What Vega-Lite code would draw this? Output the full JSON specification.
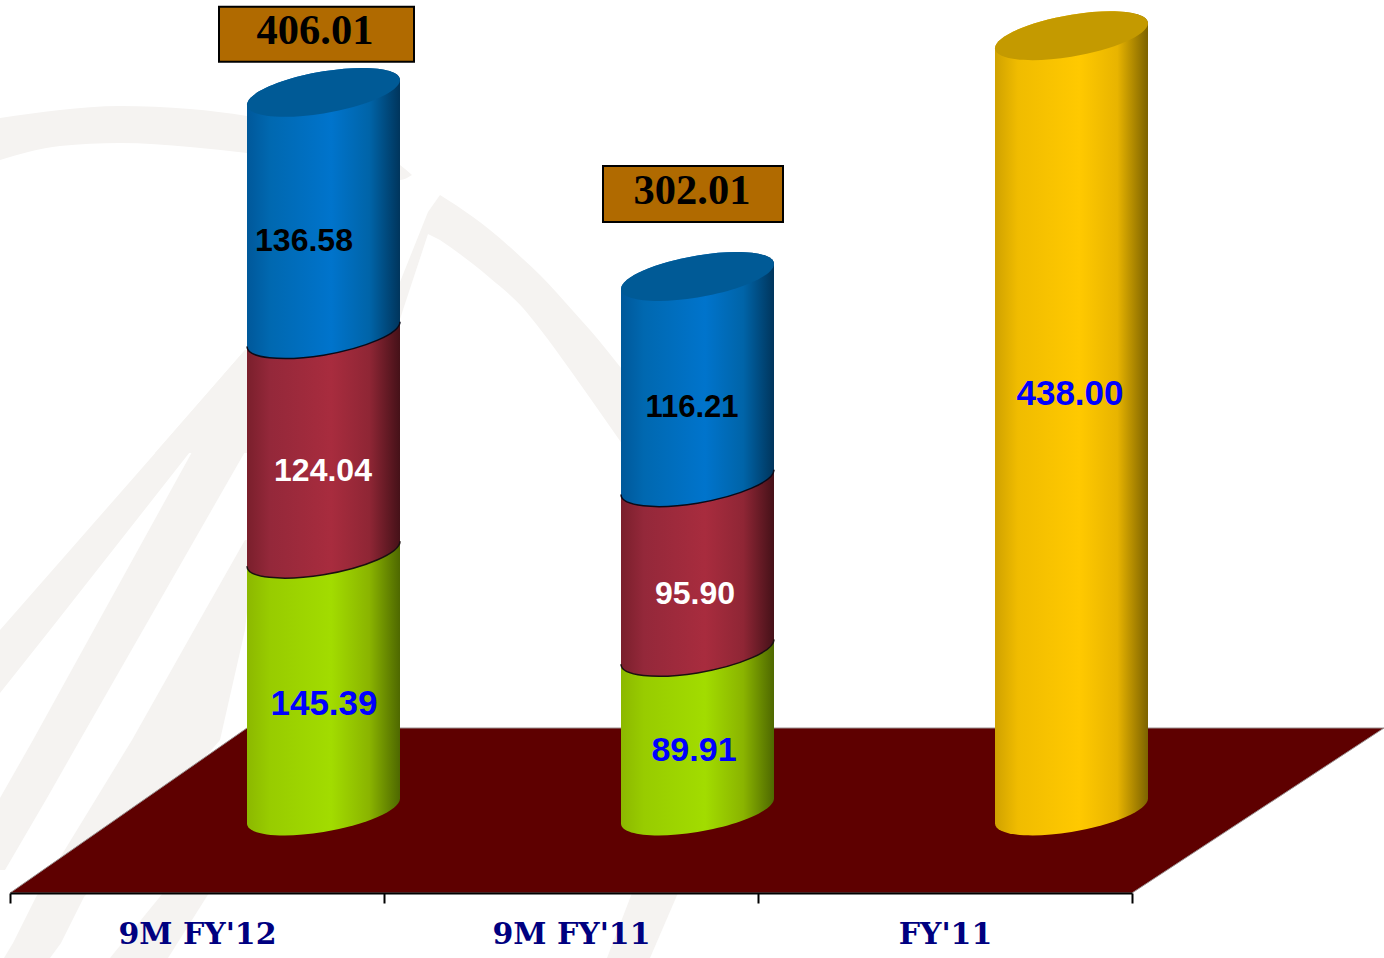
{"$schema":"https://vega.github.io/schema/vega-lite/v6.json","width":1384,"height":893,"autosize":{"type":"none"},"padding":{"left":0,"top":0,"right":0,"bottom":65},"background":"white","config":{"view":{"stroke":null}},
"datasets":{
"bars":[{"period":"9M FY'12","segment":"green","order":1,"value":145.39},{"period":"9M FY'12","segment":"red","order":2,"value":124.04},{"period":"9M FY'12","segment":"blue","order":3,"value":136.58},{"period":"9M FY'11","segment":"green","order":1,"value":89.91},{"period":"9M FY'11","segment":"red","order":2,"value":95.90},{"period":"9M FY'11","segment":"blue","order":3,"value":116.21},{"period":"FY'11","segment":"yellow","order":1,"value":438.00}],
"vshapes":[{"s":"arc1","px":0,"py":118,"py2":160},{"s":"arc1","px":60,"py":110,"py2":146},{"s":"arc1","px":120,"py":106,"py2":143},{"s":"arc1","px":190,"py":109,"py2":147},{"s":"arc1","px":247,"py":116,"py2":153},{"s":"arc1","px":330,"py":135,"py2":164},{"s":"arc1","px":400,"py":165,"py2":180},{"s":"arc1","px":412,"py":175,"py2":175},
{"s":"arc2b","px":440,"py":195,"py2":240},{"s":"arc2b","px":473,"py":217,"py2":264},{"s":"arc2b","px":490,"py":230,"py2":278},{"s":"arc2b","px":523,"py":259,"py2":308},{"s":"arc2b","px":540,"py":275,"py2":329},{"s":"arc2b","px":573,"py":311,"py2":374},{"s":"arc2b","px":590,"py":330,"py2":398},{"s":"arc2b","px":625,"py":373,"py2":448}],
"vshapes2":[{"s":"arc2a","px":400,"py":282,"py2":319},{"s":"arc2a","px":428,"py":212,"py2":234},{"s":"arc2a","px":440,"py":195,"py2":240}],
"hshapes":[{"s":"a","py":350,"px":245,"px2":260},{"s":"a","py":443,"px":164,"px2":197},{"s":"a","py":630,"px":0,"px2":50},{"s":"a","py":693,"px":0,"px2":0},
{"s":"m","py":350,"px":245,"px2":260},{"s":"m","py":453,"px":155,"px2":250},
{"s":"b","py":443,"px":197,"px2":250},{"s":"b","py":740,"px":33,"px2":80},{"s":"b","py":798,"px":0,"px2":47},{"s":"b","py":870,"px":0,"px2":5},
{"s":"c","py":540,"px":245,"px2":255},{"s":"c","py":630,"px":194,"px2":245},{"s":"c","py":740,"px":132,"px2":220},{"s":"c","py":897,"px":36,"px2":84},{"s":"c","py":943,"px":13,"px2":61},{"s":"c","py":958,"px":4,"px2":50},
{"s":"d","py":893,"px":163,"px2":209},{"s":"d","py":958,"px":110,"px2":168},
{"s":"e","py":893,"px":632,"px2":678},{"s":"e","py":958,"px":607,"px2":650}],
"floor":[{"py":728,"px":247,"px2":1384},{"py":893,"px":10,"px2":1132}],
"totals":[{"period":"9M FY'12","total":406.01},{"period":"9M FY'11","total":302.01}]
},
"layer":[
{"layer":[
{"data":{"name":"hshapes"},"mark":{"type":"area","orient":"horizontal","color":"#f5f3f1"},"encoding":{"y":{"field":"py","type":"quantitative","scale":{"domain":[893,0],"nice":false,"zero":false},"axis":null},"x":{"field":"px","type":"quantitative","scale":{"domain":[0,1384],"nice":false,"zero":false},"axis":null},"x2":{"field":"px2"},"detail":{"field":"s"}}},
{"data":{"name":"vshapes"},"mark":{"type":"area","orient":"vertical","color":"#f5f3f1","interpolate":"monotone"},"encoding":{"x":{"field":"px","type":"quantitative"},"y":{"field":"py","type":"quantitative"},"y2":{"field":"py2"},"detail":{"field":"s"}}},
{"data":{"name":"vshapes2"},"mark":{"type":"area","orient":"vertical","color":"#f5f3f1"},"encoding":{"x":{"field":"px","type":"quantitative"},"y":{"field":"py","type":"quantitative"},"y2":{"field":"py2"},"detail":{"field":"s"}}},
{"data":{"name":"floor"},"mark":{"type":"area","orient":"horizontal","color":"#5e0000","stroke":"#9a9090","strokeWidth":1},"encoding":{"y":{"field":"py","type":"quantitative"},"x":{"field":"px","type":"quantitative"},"x2":{"field":"px2"}}}
]},
{"data":{"name":"bars"},"transform":[{"stack":"value","groupby":["period"],"sort":[{"field":"order","order":"ascending"}],"as":["y0","y1"]}],
"encoding":{"x":{"field":"period","type":"nominal","sort":null,"scale":{"domain":["9M FY'12","9M FY'11","FY'11"],"type":"band","range":[10,1132],"paddingInner":0,"paddingOuter":0},"axis":{"orient":"bottom","zindex":1,"title":null,"labelAngle":0,"tickBand":"extent","domainColor":"#000000","domainWidth":2,"tickColor":"#000000","tickWidth":2,"tickSize":10,"labelFont":"DejaVu Serif","labelFontWeight":"bold","labelFontSize":30,"labelColor":"#000080","labelPadding":16,"grid":false}},
"y":{"field":"y1","type":"quantitative","scale":{"domain":[-46.33,458.19],"nice":false,"zero":false},"axis":null}},
"layer":[
{"transform":[{"filter":"datum.segment==='green'"}],"mark":{"type":"bar","width":153,"xOffset":126.5,"yOffset":-13,"y2Offset":-12,"color":{"gradient":"linear","x1":0,"x2":1,"y1":0,"y2":0,"stops":[{"offset":0,"color":"#8cb800"},{"offset":0.15,"color":"#98cc00"},{"offset":0.55,"color":"#a2dc00"},{"offset":0.8,"color":"#8ab400"},{"offset":1,"color":"#4e6800"}]}},"encoding":{"y2":{"field":"y0"}}},
{"transform":[{"filter":"datum.segment==='green'"}],"mark":{"type":"point","filled":true,"opacity":1,"size":23409,"xOffset":126.5,"shape":"M-1,-.175L1,-.175L1,-.163C1,-.011 .552,.185 0,.275C-.552,.365 -1,.315 -1,.163Z","color":{"gradient":"linear","x1":0,"x2":1,"y1":0,"y2":0,"stops":[{"offset":0,"color":"#8cb800"},{"offset":0.15,"color":"#98cc00"},{"offset":0.55,"color":"#a2dc00"},{"offset":0.8,"color":"#8ab400"},{"offset":1,"color":"#4e6800"}]}},"encoding":{"y":{"field":"y0","type":"quantitative"}}},
{"transform":[{"filter":"datum.segment==='red'"}],"mark":{"type":"bar","width":153,"xOffset":126.5,"yOffset":-13,"y2Offset":-12,"color":{"gradient":"linear","x1":0,"x2":1,"y1":0,"y2":0,"stops":[{"offset":0,"color":"#7a1f2c"},{"offset":0.15,"color":"#94283a"},{"offset":0.55,"color":"#a82c3e"},{"offset":0.8,"color":"#8f2635"},{"offset":1,"color":"#451118"}]}},"encoding":{"y2":{"field":"y0"}}},
{"transform":[{"filter":"datum.segment==='red'"}],"mark":{"type":"point","filled":true,"opacity":1,"size":23409,"xOffset":126.5,"shape":"M-1,-.175L1,-.175L1,-.163C1,-.011 .552,.185 0,.275C-.552,.365 -1,.315 -1,.163Z","color":{"gradient":"linear","x1":0,"x2":1,"y1":0,"y2":0,"stops":[{"offset":0,"color":"#7a1f2c"},{"offset":0.15,"color":"#94283a"},{"offset":0.55,"color":"#a82c3e"},{"offset":0.8,"color":"#8f2635"},{"offset":1,"color":"#451118"}]}},"encoding":{"y":{"field":"y0","type":"quantitative"}}},
{"transform":[{"filter":"datum.segment==='red'"}],"mark":{"type":"point","filled":false,"opacity":1,"size":23409,"xOffset":126.5,"strokeWidth":1.5,"color":"#1a1010","shape":"M1,-.163C1,-.011 .552,.185 0,.275C-.552,.365 -1,.315 -1,.163"},"encoding":{"y":{"field":"y0","type":"quantitative"}}},
{"transform":[{"filter":"datum.segment==='blue'"}],"mark":{"type":"bar","width":153,"xOffset":126.5,"yOffset":12.5,"y2Offset":-12,"color":{"gradient":"linear","x1":0,"x2":1,"y1":0,"y2":0,"stops":[{"offset":0,"color":"#00589a"},{"offset":0.15,"color":"#0068b0"},{"offset":0.55,"color":"#0074cc"},{"offset":0.8,"color":"#0064a8"},{"offset":1,"color":"#00355c"}]}},"encoding":{"y2":{"field":"y0"}}},
{"transform":[{"filter":"datum.segment==='blue'"}],"mark":{"type":"point","filled":true,"opacity":1,"size":23409,"xOffset":126.5,"shape":"M-1,-.175L1,-.175L1,-.163C1,-.011 .552,.185 0,.275C-.552,.365 -1,.315 -1,.163Z","color":{"gradient":"linear","x1":0,"x2":1,"y1":0,"y2":0,"stops":[{"offset":0,"color":"#00589a"},{"offset":0.15,"color":"#0068b0"},{"offset":0.55,"color":"#0074cc"},{"offset":0.8,"color":"#0064a8"},{"offset":1,"color":"#00355c"}]}},"encoding":{"y":{"field":"y0","type":"quantitative"}}},
{"transform":[{"filter":"datum.segment==='blue'"}],"mark":{"type":"point","filled":false,"opacity":1,"size":23409,"xOffset":126.5,"strokeWidth":1.5,"color":"#0a0a18","shape":"M1,-.163C1,-.011 .552,.185 0,.275C-.552,.365 -1,.315 -1,.163"},"encoding":{"y":{"field":"y0","type":"quantitative"}}},
{"transform":[{"filter":"datum.segment==='blue'"}],"mark":{"type":"point","filled":true,"opacity":1,"size":23409,"xOffset":126.5,"shape":"M-1,.163C-1,.011 -.552,-.185 0,-.275C.552,-.365 1,-.315 1,-.163L1,.19L-1,.19Z","color":{"gradient":"linear","x1":0,"x2":1,"y1":0,"y2":0,"stops":[{"offset":0,"color":"#00589a"},{"offset":0.15,"color":"#0068b0"},{"offset":0.55,"color":"#0074cc"},{"offset":0.8,"color":"#0064a8"},{"offset":1,"color":"#00355c"}]}}},
{"transform":[{"filter":"datum.segment==='blue'"}],"mark":{"type":"point","filled":true,"opacity":1,"size":23409,"xOffset":126.5,"color":"#005a96","shape":"M-1,.163C-1,.011 -.552,-.185 0,-.275C.552,-.365 1,-.315 1,-.163C1,-.011 .552,.185 0,.275C-.552,.365 -1,.315 -1,.163Z"}},
{"transform":[{"filter":"datum.segment==='yellow'"}],"mark":{"type":"bar","width":153,"xOffset":126.5,"yOffset":12.5,"y2Offset":-12,"color":{"gradient":"linear","x1":0,"x2":1,"y1":0,"y2":0,"stops":[{"offset":0,"color":"#d0a200"},{"offset":0.15,"color":"#f0bc00"},{"offset":0.55,"color":"#ffc900"},{"offset":0.8,"color":"#e8b400"},{"offset":1,"color":"#7c6200"}]}},"encoding":{"y2":{"field":"y0"}}},
{"transform":[{"filter":"datum.segment==='yellow'"}],"mark":{"type":"point","filled":true,"opacity":1,"size":23409,"xOffset":126.5,"shape":"M-1,-.175L1,-.175L1,-.163C1,-.011 .552,.185 0,.275C-.552,.365 -1,.315 -1,.163Z","color":{"gradient":"linear","x1":0,"x2":1,"y1":0,"y2":0,"stops":[{"offset":0,"color":"#d0a200"},{"offset":0.15,"color":"#f0bc00"},{"offset":0.55,"color":"#ffc900"},{"offset":0.8,"color":"#e8b400"},{"offset":1,"color":"#7c6200"}]}},"encoding":{"y":{"field":"y0","type":"quantitative"}}},
{"transform":[{"filter":"datum.segment==='yellow'"}],"mark":{"type":"point","filled":true,"opacity":1,"size":23409,"xOffset":126.5,"shape":"M-1,.163C-1,.011 -.552,-.185 0,-.275C.552,-.365 1,-.315 1,-.163L1,.19L-1,.19Z","color":{"gradient":"linear","x1":0,"x2":1,"y1":0,"y2":0,"stops":[{"offset":0,"color":"#d0a200"},{"offset":0.15,"color":"#f0bc00"},{"offset":0.55,"color":"#ffc900"},{"offset":0.8,"color":"#e8b400"},{"offset":1,"color":"#7c6200"}]}}},
{"transform":[{"filter":"datum.segment==='yellow'"}],"mark":{"type":"point","filled":true,"opacity":1,"size":23409,"xOffset":126.5,"color":"#c49a00","shape":"M-1,.163C-1,.011 -.552,-.185 0,-.275C.552,-.365 1,-.315 1,-.163C1,-.011 .552,.185 0,.275C-.552,.365 -1,.315 -1,.163Z"}},
{"transform":[{"filter":"datum.value===136.58"}],"mark":{"type":"text","font":"Liberation Sans","fontWeight":"bold","fontSize":32,"color":"#000000","baseline":"middle","dx":107,"dy":-93},"encoding":{"y":{"field":"y0","type":"quantitative"},"text":{"field":"value","format":".2f"}}},
{"transform":[{"filter":"datum.value===124.04"}],"mark":{"type":"text","font":"Liberation Sans","fontWeight":"bold","fontSize":32,"color":"#ffffff","baseline":"middle","dx":126,"dy":-83},"encoding":{"y":{"field":"y0","type":"quantitative"},"text":{"field":"value","format":".2f"}}},
{"transform":[{"filter":"datum.value===145.39"}],"mark":{"type":"text","font":"Liberation Sans","fontWeight":"bold","fontSize":35,"color":"#0000ff","baseline":"middle","dx":127,"dy":-107},"encoding":{"y":{"field":"y0","type":"quantitative"},"text":{"field":"value","format":".2f"}}},
{"transform":[{"filter":"datum.value===116.21"}],"mark":{"type":"text","font":"Liberation Sans","fontWeight":"bold","fontSize":31,"color":"#000000","baseline":"middle","dx":121,"dy":-74},"encoding":{"y":{"field":"y0","type":"quantitative"},"text":{"field":"value","format":".2f"}}},
{"transform":[{"filter":"datum.value===95.9"}],"mark":{"type":"text","font":"Liberation Sans","fontWeight":"bold","fontSize":32,"color":"#ffffff","baseline":"middle","dx":124,"dy":-58},"encoding":{"y":{"field":"y0","type":"quantitative"},"text":{"field":"value","format":".2f"}}},
{"transform":[{"filter":"datum.value===89.91"}],"mark":{"type":"text","font":"Liberation Sans","fontWeight":"bold","fontSize":34,"color":"#0000ff","baseline":"middle","dx":123,"dy":-60},"encoding":{"y":{"field":"y0","type":"quantitative"},"text":{"field":"value","format":".2f"}}},
{"transform":[{"filter":"datum.value===438"}],"mark":{"type":"text","font":"Liberation Sans","fontWeight":"bold","fontSize":35,"color":"#0000ff","baseline":"middle","dx":125,"dy":-417},"encoding":{"y":{"field":"y0","type":"quantitative"},"text":{"field":"value","format":".2f"}}},
{"data":{"name":"totals"},"transform":[{"filter":"datum.total===406.01"}],"mark":{"type":"point","filled":true,"opacity":1,"size":38025,"xOffset":119.5,"yOffset":-58,"color":"#b06a00","stroke":"#000000","strokeWidth":2,"shape":"M-1,-.282L1,-.282L1,.282L-1,.282Z"},"encoding":{"y":{"field":"total","type":"quantitative"}}},
{"data":{"name":"totals"},"transform":[{"filter":"datum.total===302.01"}],"mark":{"type":"point","filled":true,"opacity":1,"size":32400,"xOffset":122,"yOffset":-82.4,"color":"#b06a00","stroke":"#000000","strokeWidth":2,"shape":"M-1,-.311L1,-.311L1,.311L-1,.311Z"},"encoding":{"y":{"field":"total","type":"quantitative"}}},
{"data":{"name":"totals"},"transform":[{"filter":"datum.total===406.01"}],"mark":{"type":"text","font":"Liberation Serif","fontWeight":"bold","fontSize":42.5,"color":"#000000","baseline":"middle","dx":118,"dy":-61.5},"encoding":{"y":{"field":"total","type":"quantitative"},"text":{"field":"total","format":".2f"}}},
{"data":{"name":"totals"},"transform":[{"filter":"datum.total===302.01"}],"mark":{"type":"text","font":"Liberation Serif","fontWeight":"bold","fontSize":42.5,"color":"#000000","baseline":"middle","dx":121,"dy":-85.4},"encoding":{"y":{"field":"total","type":"quantitative"},"text":{"field":"total","format":".2f"}}}
]}
],
"resolve":{"scale":{"x":"independent","y":"independent"}}
}
